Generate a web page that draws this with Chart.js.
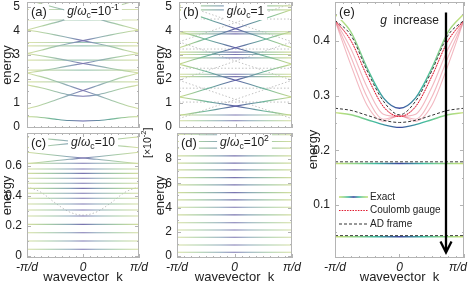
<!DOCTYPE html>
<html>
<head>
<meta charset="utf-8">
<script src="https://cdn.jsdelivr.net/npm/chart.js@4.4.1/dist/chart.umd.min.js"></script>
<style>
html, body { margin: 0; padding: 0; background: #fff; width: 469px; height: 282px; overflow: hidden; position: relative; }
canvas { position: absolute; }
</style>
</head>
<body>
<canvas id="pa"></canvas>
<canvas id="pb"></canvas>
<canvas id="pc"></canvas>
<canvas id="pd"></canvas>
<canvas id="pe"></canvas>
<script>
// wavevector samples, in units of pi/d
const K = [-1, -0.75, -0.5, -0.25, 0, 0.25, 0.5, 0.75, 1];
const K_EDGES = [-1, 1];
const X_TICKS = [-1, 0, 1];

// (a) g/wc = 0.1
const A_LOW = [0.44, 0.40, 0.33, 0.27, 0.25, 0.27, 0.33, 0.40, 0.44];
const A_U = [1.75, 1.64, 1.48, 1.34, 1.28, 1.34, 1.48, 1.64, 1.75];
const A_UP1 = [0.76, 0.92, 1.12, 1.33, 1.52, 1.72, 1.92, 2.10, 2.25];
const A_DN1 = [2.25, 2.10, 1.92, 1.72, 1.52, 1.33, 1.12, 0.92, 0.76];
const A_UP2 = [2.25, 2.34, 2.44, 2.55, 2.65, 2.76, 2.87, 2.97, 3.06];
const A_DN2 = [3.06, 2.97, 2.87, 2.76, 2.65, 2.55, 2.44, 2.34, 2.25];
const A_UP3 = [3.06, 3.20, 3.35, 3.48, 3.60, 3.72, 3.84, 3.95, 4.04];
const A_DN3 = [4.04, 3.95, 3.84, 3.72, 3.60, 3.48, 3.35, 3.20, 3.06];
const A_UP4 = [4.04, 4.20, 4.35, 4.52, 4.67, 4.83, 4.98, 5.14, 5.30];
const A_DN4 = [5.30, 5.14, 4.98, 4.83, 4.67, 4.52, 4.35, 4.20, 4.04];
const A_FLAT = [1.88, 2.37, 2.79, 3.38, 3.52, 4.46, 4.90];
const A_YTICKS = [0, 1, 2, 3, 4, 5];

// (b) g/wc = 1
const B_UP0 = [0.49, 0.58, 0.67, 0.77, 0.87, 0.97, 1.06, 1.16, 1.25];
const B_DN0 = [1.25, 1.16, 1.06, 0.97, 0.87, 0.77, 0.67, 0.58, 0.49];
const B_UP1 = [1.25, 1.42, 1.60, 1.78, 1.95, 2.12, 2.30, 2.47, 2.62];
const B_DN1 = [2.62, 2.47, 2.30, 2.12, 1.95, 1.78, 1.60, 1.42, 1.25];
const B_UP2 = [2.62, 2.80, 2.97, 3.14, 3.30, 3.47, 3.64, 3.82, 3.98];
const B_DN2 = [3.98, 3.82, 3.64, 3.47, 3.30, 3.14, 2.97, 2.80, 2.62];
const B_UP3 = [3.30, 3.50, 3.70, 3.90, 4.10, 4.30, 4.50, 4.70, 4.90];
const B_DN3 = [4.90, 4.70, 4.50, 4.30, 4.10, 3.90, 3.70, 3.50, 3.30];
const B_FLAT = [0.26, 0.50, 2.10, 2.20, 2.88, 3.02, 3.12, 3.88, 3.97, 4.88, 5.05];
const B_GHOST_UP1 = [0.35, 0.55, 0.75, 0.95, 1.15, 1.35, 1.55, 1.75, 1.95];
const B_GHOST_DN1 = [1.95, 1.75, 1.55, 1.35, 1.15, 0.95, 0.75, 0.55, 0.35];
const B_GHOST_UP2 = [1.95, 2.15, 2.35, 2.55, 2.75, 2.95, 3.15, 3.35, 3.55];
const B_GHOST_DN2 = [3.55, 3.35, 3.15, 2.95, 2.75, 2.55, 2.35, 2.15, 1.95];
const B_GHOST_UP3 = [3.55, 3.75, 3.95, 4.15, 4.35, 4.55, 4.75, 4.95, 5.15];
const B_GHOST_DN3 = [5.15, 4.95, 4.75, 4.55, 4.35, 4.15, 3.95, 3.75, 3.55];
const B_GHOST_FLAT = [1.04, 1.62, 2.45, 3.25, 4.50];

// (c) g/wc = 10
const C_FLAT = [0.045, 0.100, 0.155, 0.211, 0.267, 0.307, 0.347, 0.385, 0.418, 0.451, 0.485, 0.518, 0.551, 0.580, 0.618];
const C_UP1 = [0.615, 0.625, 0.635, 0.645, 0.653, 0.662, 0.672, 0.682, 0.692];
const C_DN1 = [0.692, 0.682, 0.672, 0.662, 0.653, 0.645, 0.635, 0.625, 0.615];
const C_UP2 = [0.722, 0.731, 0.740, 0.749, 0.758, 0.767, 0.776, 0.785, 0.794];
const C_DN2 = [0.794, 0.785, 0.776, 0.767, 0.758, 0.749, 0.740, 0.731, 0.722];
const C_GHOST = [0.462, 0.425, 0.355, 0.295, 0.273, 0.295, 0.355, 0.425, 0.462];
const C_YTICKS = [0, 0.2, 0.4, 0.6];

// (d) g/wc = 100, energy in units of 1e-2
const D_FLAT = [0.31, 0.91, 1.55, 2.15, 2.75, 3.39, 4.02, 4.63, 5.23, 5.87, 6.47, 7.11, 7.66, 8.26, 8.90, 9.45, 10.0];
const D_YTICKS = [0, 2, 4, 6, 8];

// (e) comparison
const E_EXACT_TOP = [0.450, 0.416, 0.350, 0.296, 0.277, 0.296, 0.350, 0.416, 0.450];
const E_EXACT_LOW = [0.269, 0.265, 0.256, 0.247, 0.242, 0.247, 0.256, 0.265, 0.269];
const E_EXACT_FLAT = [0.176, 0.042];
const E_AD_TOP = [0.438, 0.410, 0.345, 0.290, 0.265, 0.290, 0.345, 0.410, 0.438];
const E_AD_LOW = [0.277, 0.273, 0.264, 0.255, 0.251, 0.255, 0.264, 0.273, 0.277];
const E_AD_FLAT = [0.179, 0.044];
const E_COULOMB_1 = [0.438, 0.400, 0.335, 0.280, 0.262, 0.280, 0.335, 0.400, 0.438];
const E_COULOMB_2 = [0.438, 0.385, 0.315, 0.266, 0.262, 0.266, 0.315, 0.385, 0.438];
const E_COULOMB_3 = [0.438, 0.370, 0.297, 0.257, 0.263, 0.257, 0.297, 0.370, 0.438];
const E_COULOMB_4 = [0.438, 0.355, 0.282, 0.253, 0.264, 0.253, 0.282, 0.355, 0.438];
const E_YTICKS = [0.1, 0.2, 0.3, 0.4];

const FONT = '"Liberation Sans", Arial, Helvetica, sans-serif';
const INK = '#222';
Chart.defaults.font.family = FONT;

// colour ramps along k (edge -> centre -> edge)
const STRONG = [[0, '#d6dfa0'], [0.2, '#a6cca6'], [0.38, '#8aa6b8'], [0.5, '#7a74b0'], [0.62, '#8aa6b8'], [0.8, '#a6cca6'], [1, '#d6dfa0']];
const SOFT = [[0, '#dde4ae'], [0.5, '#9ec8b8'], [1, '#dde4ae']];
const DEEP = [[0, '#ccdc8c'], [0.25, '#6cb49c'], [0.5, '#5e5ea6'], [0.75, '#6cb49c'], [1, '#ccdc8c']];
const EXACT = [[0, '#c9e27a'], [0.18, '#86d28a'], [0.32, '#3fb9a0'], [0.5, '#3b48a0'], [0.68, '#3fb9a0'], [0.82, '#86d28a'], [1, '#c9e27a']];

function shade(stops) {
    return (ctx) => {
        const a = ctx.chart.chartArea;
        if (!a) return stops[0][1];
        const g = ctx.chart.ctx.createLinearGradient(a.left, 0, a.right, 0);
        stops.forEach(([p, c]) => g.addColorStop(p, c));
        return g;
    };
}

const curve = (vals, color, extra) => Object.assign({
    data: vals.map((v, i) => ({x: K[i], y: v})),
    borderColor: color, borderWidth: 1.1, pointRadius: 0,
    cubicInterpolationMode: 'monotone'
}, extra);
const level = (v, color, extra) => Object.assign({
    data: K_EDGES.map(x => ({x: x, y: v})),
    borderColor: color, borderWidth: 1.1, pointRadius: 0
}, extra);

const GHOST = {borderColor: '#c2c2c2', borderDash: [1.5, 2], borderWidth: 1};

function rich(c, parts, x, y, size, draw) {
    let cx = x;
    for (const [t, s] of parts) {
        const small = s === 'sub' || s === 'sup';
        c.font = (s === 'i' ? 'italic ' : '') + (small ? size * 0.72 : size) + 'px ' + FONT;
        const dy = s === 'sub' ? size * 0.3 : s === 'sup' ? -size * 0.38 : 0;
        if (draw) c.fillText(t, cx, y + dy);
        cx += c.measureText(t).width;
    }
    return cx - x;
}

function coupling(exp) {
    const p = [['g', 'i'], ['/', ''], ['ω', 'i'], ['c', 'sub'], ['=' + exp.base, '']];
    if (exp.sup) p.push([exp.sup, 'sup']);
    return p;
}

const DECO = {
    pa: {tag: '(a)', label: coupling({base: '10', sup: '-1'}), yTicks: A_YTICKS, yStep: 0.5},
    pb: {tag: '(b)', label: coupling({base: '1'}), yTicks: A_YTICKS, yStep: 0.5},
    pc: {tag: '(c)', label: coupling({base: '10'}), yTicks: C_YTICKS, yStep: 0.1},
    pd: {tag: '(d)', label: coupling({base: '10', sup: '2'}), yTicks: D_YTICKS, yStep: 1, extra: drawScaleNote},
    pe: {tag: '(e)', yTicks: E_YTICKS, yStep: 0.05, extra: drawPanelE}
};

function drawScaleNote(chart, c, a) {
    c.save();
    c.translate(a.left - 29, a.top + 25);
    c.rotate(-Math.PI / 2);
    c.fillStyle = INK;
    c.textBaseline = 'middle';
    rich(c, [['[×10', ''], ['-2', 'sup'], [']', '']], 0, 0, 10.5, true);
    c.restore();
}

function drawPanelE(chart, c, a, sx, sy) {
    // arrow
    const x = Math.round(sx.getPixelForValue(0.72));
    const y1 = sy.getPixelForValue(0.452), y2 = sy.getPixelForValue(0.013);
    c.strokeStyle = '#000';
    c.lineWidth = 2.3;
    c.beginPath();
    c.moveTo(x, y1); c.lineTo(x, y2);
    c.moveTo(x - 5.5, y2 - 11); c.lineTo(x, y2); c.lineTo(x + 5.5, y2 - 11);
    c.stroke();
    // caption
    c.fillStyle = INK;
    c.textBaseline = 'middle';
    const cap = [['g', 'i'], ['  increase', '']];
    const w = rich(c, cap, 0, 0, 12, false);
    rich(c, cap, a.right - 25 - w, a.top + 19, 12, true);
    // legend
    const rows = [
        ['Exact', (g) => { const gr = c.createLinearGradient(g, 0, g + 29, 0); EXACT.forEach(([p, col]) => gr.addColorStop(p, col)); return gr; }, [], 1.6],
        ['Coulomb gauge', () => '#e0182e', [1.5, 1.2], 1.1],
        ['AD frame', () => '#333', [3, 2], 1.1]
    ];
    const lx = a.left + 4;
    rows.forEach(([txt, col, dash, lw], i) => {
        const y = a.top + 195 + i * 13.5;
        c.strokeStyle = col(lx);
        c.lineWidth = lw;
        c.setLineDash(dash);
        c.beginPath(); c.moveTo(lx, y); c.lineTo(lx + 29, y); c.stroke();
        c.setLineDash([]);
        c.fillStyle = INK;
        rich(c, [[txt, '']], lx + 31, y, 10, true);
    });
}

const deco = {
    id: 'deco',
    afterDatasetsDraw(chart) {
        const o = DECO[chart.canvas.id];
        const c = chart.ctx, a = chart.chartArea, sx = chart.scales.x, sy = chart.scales.y;
        c.save();
        c.textBaseline = 'middle';
        const ty = a.top + 10;
        const tw = rich(c, [[o.tag, '']], 0, 0, 13, false);
        c.fillStyle = '#fff';
        c.fillRect(a.left + 2, ty - 8, tw + 4, 16);
        c.fillStyle = INK;
        rich(c, [[o.tag, '']], a.left + 4, ty, 13, true);
        if (o.label) {
            const w = rich(c, o.label, 0, 0, 12, false);
            const x0 = (a.left + a.right) / 2 + 10 - w / 2;
            c.fillStyle = '#fff';
            c.fillRect(x0 - 3, ty - 9, w + 6, 17);
            c.fillStyle = INK;
            rich(c, o.label, x0, ty, 12, true);
        }
        if (o.extra) o.extra(chart, c, a, sx, sy);
        // frame and inner ticks
        c.strokeStyle = '#b4b4b4';
        c.lineWidth = 1;
        c.strokeRect(Math.round(a.left) + 0.5, Math.round(a.top) + 0.5, Math.round(a.width) - 1, Math.round(a.height) - 1);
        c.beginPath();
        const y0 = o.yTicks[0] - o.yStep * Math.floor((o.yTicks[0] - sy.min) / o.yStep);
        for (let v = y0; v <= sy.max + 1e-9; v += o.yStep) {
            const p = Math.round(sy.getPixelForValue(v)) + 0.5;
            const major = o.yTicks.some(t => Math.abs(t - v) < 1e-6);
            const len = major ? 4 : 2;
            c.moveTo(a.left, p); c.lineTo(a.left + len, p);
            c.moveTo(a.right, p); c.lineTo(a.right - len, p);
        }
        for (let v = -1; v <= 1 + 1e-9; v += 0.125) {
            const p = Math.round(sx.getPixelForValue(v)) + 0.5;
            const len = X_TICKS.some(t => Math.abs(t - v) < 1e-6) ? 4 : 2;
            c.moveTo(p, a.bottom); c.lineTo(p, a.bottom - len);
            c.moveTo(p, a.top); c.lineTo(p, a.top + len);
        }
        c.stroke();
        c.restore();
    }
};

function panel(id, box, cfg) {
    const cv = document.getElementById(id);
    cv.width = box.w;
    cv.height = box.h;
    cv.style.left = box.x + 'px';
    cv.style.top = box.y + 'px';
    const tickFont = {family: FONT, size: 12};
    return new Chart(cv, {
        type: 'line',
        data: {datasets: cfg.datasets},
        options: {
            responsive: false,
            animation: false,
            events: [],
            layout: {padding: box.pad},
            plugins: {legend: {display: false}, tooltip: {enabled: false}},
            scales: {
                x: {
                    type: 'linear', min: -1, max: 1, display: cfg.showX,
                    afterBuildTicks: s => { s.ticks = X_TICKS.map(v => ({value: v})); },
                    afterFit: s => { if (cfg.showX) s.height = 27; },
                    ticks: {callback: v => cfg.xLabels[X_TICKS.indexOf(v)], font: {family: FONT, size: 12, style: 'italic'}, color: INK, padding: 2, maxRotation: 0, autoSkip: false},
                    grid: {display: false, drawTicks: false, tickLength: 0},
                    border: {display: false},
                    title: {display: true, text: 'wavevector  k', font: {family: FONT, size: 13}, color: INK, padding: 0}
                },
                y: {
                    type: 'linear', min: cfg.yMin, max: cfg.yMax,
                    afterBuildTicks: s => { s.ticks = cfg.yTicks.map(v => ({value: v})); },
                    afterFit: s => { s.width = box.yw; },
                    ticks: {callback: v => String(v), font: tickFont, color: INK, padding: cfg.tickPad},
                    grid: {display: false, drawTicks: false, tickLength: 0},
                    border: {display: false},
                    title: {display: true, text: cfg.yTitle, font: {family: FONT, size: 13}, color: INK, padding: 0}
                }
            }
        },
        plugins: [deco]
    });
}

const LABELS = ['-π/d', '0', 'π/d'];

// (a)
panel('pa', {x: 0, y: -18, w: 149, h: 166, yw: 27, pad: {left: 0, top: 20, right: 10, bottom: 20}}, {
    showX: false, xLabels: LABELS, yMin: -0.04, yMax: 5.21, yTicks: A_YTICKS, tickPad: 7, yTitle: 'energy',
    datasets: [
        curve(A_LOW, shade(DEEP)),
        curve(A_U, shade(STRONG)),
        curve(A_UP1, shade(STRONG)), curve(A_DN1, shade(STRONG)),
        curve(A_UP2, shade(STRONG)), curve(A_DN2, shade(STRONG)),
        curve(A_UP3, shade(STRONG)), curve(A_DN3, shade(STRONG)),
        curve(A_UP4, shade(STRONG)), curve(A_DN4, shade(STRONG)),
        ...A_FLAT.map(v => level(v, shade(SOFT)))
    ]
});

// (b)
panel('pb', {x: 141, y: -18, w: 161, h: 166, yw: 26, pad: {left: 12, top: 20, right: 10, bottom: 20}}, {
    showX: false, xLabels: LABELS, yMin: -0.04, yMax: 5.21, yTicks: A_YTICKS, tickPad: 7, yTitle: 'energy',
    datasets: [
        curve(B_UP0, shade(DEEP)), curve(B_DN0, shade(DEEP)),
        curve(B_UP1, shade(DEEP)), curve(B_DN1, shade(DEEP)),
        curve(B_UP2, shade(DEEP)), curve(B_DN2, shade(DEEP)),
        curve(B_UP3, shade(DEEP)), curve(B_DN3, shade(DEEP)),
        ...B_FLAT.map(v => level(v, shade(STRONG))),
        curve(B_GHOST_UP1, null, GHOST), curve(B_GHOST_DN1, null, GHOST),
        curve(B_GHOST_UP2, null, GHOST), curve(B_GHOST_DN2, null, GHOST),
        curve(B_GHOST_UP3, null, GHOST), curve(B_GHOST_DN3, null, GHOST),
        ...B_GHOST_FLAT.map(v => level(v, null, GHOST))
    ]
});

// (c)
panel('pc', {x: 0, y: 113, w: 161, h: 172, yw: 27, pad: {left: 0, top: 20, right: 22, bottom: 0}}, {
    showX: true, xLabels: LABELS, yMin: -0.013, yMax: 0.82, yTicks: C_YTICKS, tickPad: 5, yTitle: 'energy',
    datasets: [
        ...C_FLAT.map(v => level(v, shade(STRONG))),
        curve(C_UP1, shade(STRONG)), curve(C_DN1, shade(STRONG)),
        curve(C_UP2, shade(STRONG)), curve(C_DN2, shade(STRONG)),
        curve(C_GHOST, null, GHOST)
    ]
});

// (d)
panel('pd', {x: 141, y: 113, w: 163, h: 172, yw: 24, pad: {left: 12, top: 20, right: 12, bottom: 0}}, {
    showX: true, xLabels: LABELS, yMin: -0.165, yMax: 10.15, yTicks: D_YTICKS, tickPad: 5, yTitle: 'energy',
    datasets: D_FLAT.map(v => level(v, shade(STRONG)))
});

// (e)
panel('pe', {x: 294, y: -18, w: 187, h: 303, yw: 29, pad: {left: 12, top: 20, right: 17, bottom: 0}}, {
    showX: true, xLabels: ['-π/d', '0', 'π/d\u2003'], yMin: 0.003, yMax: 0.4714, yTicks: E_YTICKS, tickPad: 5,
    yTitle: 'energy\u2003\u2003\u2003',
    datasets: [
        curve(E_AD_TOP, '#333', {borderDash: [3, 2], borderWidth: 1}),
        curve(E_AD_LOW, '#333', {borderDash: [3, 2], borderWidth: 1}),
        ...E_AD_FLAT.map(v => level(v, '#444', {borderDash: [3, 2], borderWidth: 1})),
        curve(E_COULOMB_1, '#e0182e', {borderDash: [1.5, 1.2], borderWidth: 1}),
        curve(E_COULOMB_1, 'rgba(226,96,116,0.45)'),
        curve(E_COULOMB_2, 'rgba(226,96,116,0.45)'),
        curve(E_COULOMB_3, 'rgba(226,96,116,0.45)'),
        curve(E_COULOMB_4, 'rgba(226,96,116,0.45)'),
        curve(E_EXACT_TOP, shade(EXACT), {borderWidth: 1.4}),
        curve(E_EXACT_LOW, shade(EXACT), {borderWidth: 1.4}),
        ...E_EXACT_FLAT.map(v => level(v, shade(EXACT), {borderWidth: 1.4}))
    ]
});
</script>
</body>
</html>
